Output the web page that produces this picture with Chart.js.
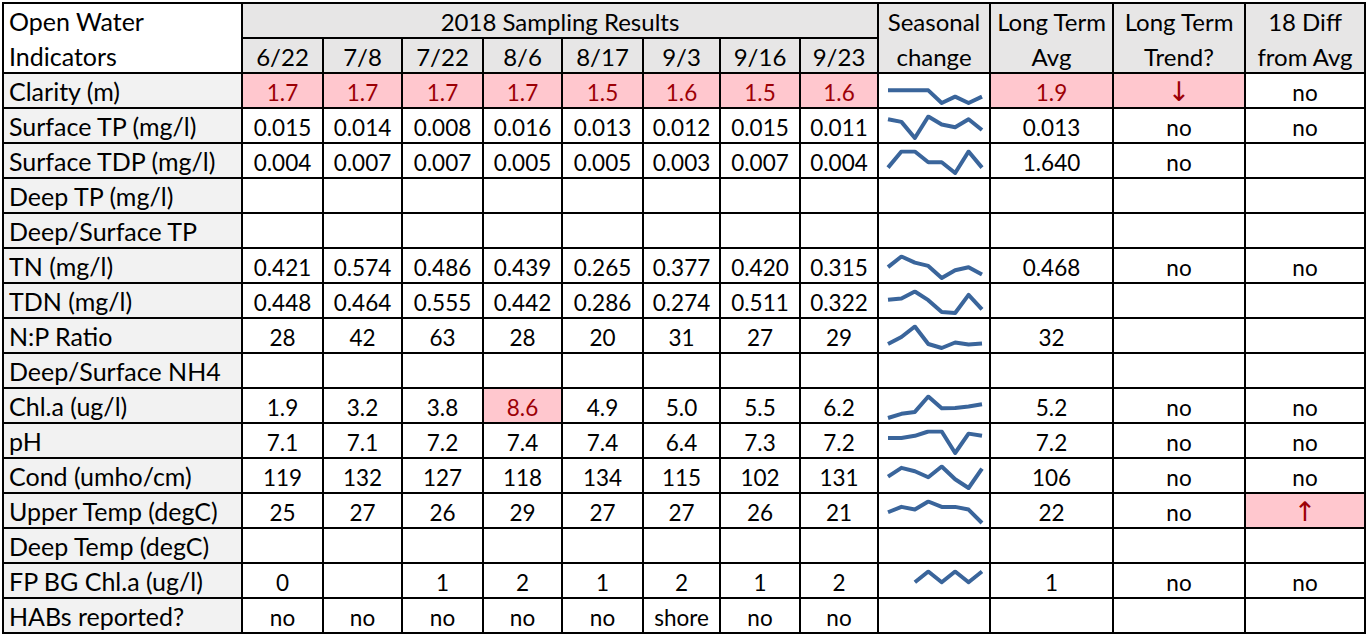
<!DOCTYPE html>
<html>
<head>
<meta charset="utf-8">
<script src="https://cdn.jsdelivr.net/npm/chart.js@4.4.1/dist/chart.umd.min.js"></script>
<style>
  html, body { margin: 0; padding: 0; background: #fff; width: 1366px; height: 635px; overflow: hidden; }
  #grid {
    position: absolute; left: 2px; top: 2px;
    display: grid;
    grid-template-columns: 237px 79px 77px 79px 77px 79px 75px 78px 76px 110px 121px 130px 118px;
    grid-template-rows: repeat(18, 33px);
    gap: 2px; padding: 2px; background: #000;
    font-family: "Lato", "Open Sans", sans-serif; font-size: 22.5px; color: #000;
  }
  .c { background: #fff; line-height: 35px; text-align: center; white-space: nowrap; overflow: visible; position: relative; box-sizing: border-box; padding-top: 1px; }
  .lab { background: #f2f2f2; text-align: left; padding-left: 5px; padding-top: 0; font-size: 25px; }
  .hd { background: #e7e6e6; font-size: 24px; padding-top: 0; }
  .hdl { background: #fff; text-align: left; padding-left: 5px; padding-top: 0; font-size: 25px; }
  .red { background: #ffc7ce; color: #9c0006; }
  .arrow { font-family: "DejaVu Sans", sans-serif; font-size: 27px; padding-top: 0; }
  canvas { position: absolute; left: 0; top: 0; }
</style>
</head>
<body>
<div id="grid"></div>
<script>
// --- data
const dates = ["6/22", "7/8", "7/22", "8/6", "8/17", "9/3", "9/16", "9/23"];
const indicators = [
  "Clarity (m)", "Surface TP (mg/l)", "Surface TDP (mg/l)", "Deep TP (mg/l)",
  "Deep/Surface TP", "TN (mg/l)", "TDN (mg/l)", "N:P Ratio", "Deep/Surface NH4",
  "Chl.a (ug/l)", "pH", "Cond (umho/cm)", "Upper Temp (degC)", "Deep Temp (degC)",
  "FP BG Chl.a (ug/l)", "HABs reported?"
];
const decimals = [1, 3, 3, 0, 0, 3, 3, 0, 0, 1, 1, 0, 0, 0, 0, 0];

const clarity      = [1.7, 1.7, 1.7, 1.7, 1.5, 1.6, 1.5, 1.6];
const surfaceTP    = [0.015, 0.014, 0.008, 0.016, 0.013, 0.012, 0.015, 0.011];
const surfaceTDP   = [0.004, 0.007, 0.007, 0.005, 0.005, 0.003, 0.007, 0.004];
const deepTP       = [null, null, null, null, null, null, null, null];
const deepSurfTP   = [null, null, null, null, null, null, null, null];
const tn           = [0.421, 0.574, 0.486, 0.439, 0.265, 0.377, 0.420, 0.315];
const tdn          = [0.448, 0.464, 0.555, 0.442, 0.286, 0.274, 0.511, 0.322];
const npRatio      = [28, 42, 63, 28, 20, 31, 27, 29];
const deepSurfNH4  = [null, null, null, null, null, null, null, null];
const chla         = [1.9, 3.2, 3.8, 8.6, 4.9, 5.0, 5.5, 6.2];
const ph           = [7.1, 7.1, 7.2, 7.4, 7.4, 6.4, 7.3, 7.2];
const cond         = [119, 132, 127, 118, 134, 115, 102, 131];
const upperTemp    = [25, 27, 26, 29, 27, 27, 26, 21];
const deepTemp     = [null, null, null, null, null, null, null, null];
const fpBgChla     = [0, null, 1, 2, 1, 2, 1, 2];
const habsReported = ["no", "no", "no", "no", "no", "shore", "no", "no"];

const longTermAvg   = [1.9, 0.013, 1.640, null, null, 0.468, null, 32, null, 5.2, 7.2, 106, 22, null, 1, null];
const longTermTrend = ["↓", "no", "no", "", "", "no", "", "", "", "no", "no", "no", "no", "", "no", ""];
const diffFromAvg   = ["no", "no", "", "", "", "no", "", "", "", "no", "no", "no", "↑", "", "no", ""];

// conditional-format flags (row index -> sample columns)
const flaggedSamples = { 0: [0, 1, 2, 3, 4, 5, 6, 7], 9: [3] };
const flaggedAvg = [0];
const flaggedTrend = [0];
const flaggedDiff = [12];

// sparkline axis top for clarity (sheet uses a fixed axis there)
const sparkYMax = { 0: 1.84 };

const rows = [clarity, surfaceTP, surfaceTDP, deepTP, deepSurfTP, tn, tdn, npRatio,
  deepSurfNH4, chla, ph, cond, upperTemp, deepTemp, fpBgChla, habsReported];

const grid = document.getElementById("grid");
const SPARK_COLOR = "#3a659b";

function cell(row, col, text, cls, rowSpan = 1, colSpan = 1) {
  const d = document.createElement("div");
  d.className = "c " + (cls || "");
  d.style.gridRow = `${row} / span ${rowSpan}`;
  d.style.gridColumn = `${col} / span ${colSpan}`;
  d.innerHTML = text;
  grid.appendChild(d);
  return d;
}

function fmt(v, dec) {
  if (v === null || v === undefined || v === "") return "";
  if (typeof v === "string") return v;
  return v.toFixed(dec);
}

const isArrow = s => s === "↑" || s === "↓";

// header
cell(1, 1, "Open Water<br>Indicators", "hdl", 2, 1);
cell(1, 2, "2018 Sampling Results", "hd", 1, 8);
dates.forEach((d, i) => cell(2, 2 + i, d, "hd"));
cell(1, 10, "Seasonal<br>change", "hd", 2, 1);
cell(1, 11, "Long Term<br>Avg", "hd", 2, 1);
cell(1, 12, "Long Term<br>Trend?", "hd", 2, 1);
cell(1, 13, "18 Diff<br>from Avg", "hd", 2, 1);

// body
const sparkCells = [];
indicators.forEach((name, r) => {
  const gr = r + 3;
  cell(gr, 1, name, "lab");
  const vals = rows[r];
  vals.forEach((v, i) => {
    const red = (flaggedSamples[r] || []).includes(i) ? "red" : "";
    cell(gr, 2 + i, fmt(v, decimals[r]), red);
  });
  const sc = cell(gr, 10, "", "");
  sc.style.paddingTop = "0";
  if (vals.some(v => typeof v === "number")) sparkCells.push([sc, r]);
  cell(gr, 11, fmt(longTermAvg[r], decimals[r]), flaggedAvg.includes(r) ? "red" : "");
  const t = longTermTrend[r];
  cell(gr, 12, t, (flaggedTrend.includes(r) ? "red " : "") + (isArrow(t) ? "arrow" : ""));
  const df = diffFromAvg[r];
  cell(gr, 13, df, (flaggedDiff.includes(r) ? "red " : "") + (isArrow(df) ? "arrow" : ""));
});

// sparklines
sparkCells.forEach(([sc, r]) => {
  const cv = document.createElement("canvas");
  cv.width = 110; cv.height = 33;
  cv.style.width = "110px"; cv.style.height = "33px";
  sc.appendChild(cv);
  new Chart(cv.getContext("2d"), {
    type: "line",
    data: {
      labels: dates,
      datasets: [{
        data: rows[r],
        borderColor: SPARK_COLOR,
        borderWidth: 4,
        pointRadius: 0,
        tension: 0,
        spanGaps: false,
        borderJoinStyle: "round",
        borderCapStyle: "butt",
        fill: false
      }]
    },
    options: {
      responsive: false,
      animation: false,
      events: [],
      layout: { padding: { left: 9, right: 7, top: 7.5, bottom: 4 } },
      plugins: { legend: { display: false }, tooltip: { enabled: false } },
      scales: {
        x: { display: false },
        y: { display: false, bounds: "data", max: sparkYMax[r] }
      }
    }
  });
});
</script>
</body>
</html>
